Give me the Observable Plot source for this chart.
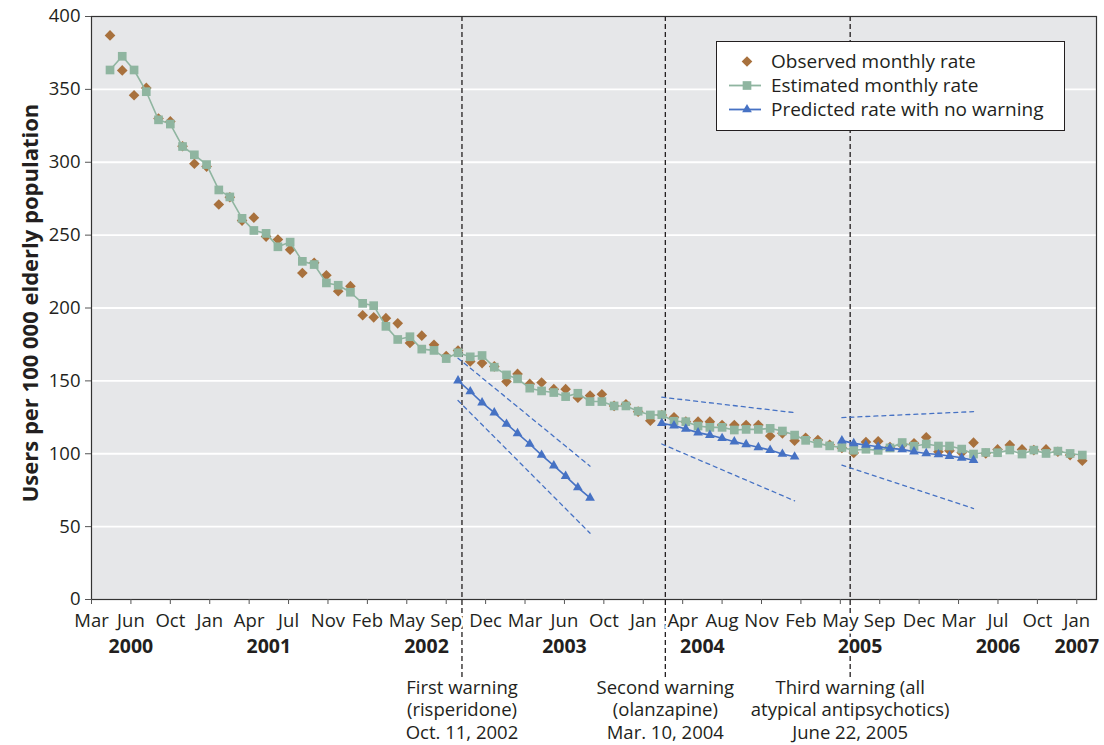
<!DOCTYPE html>
<html>
<head>
<meta charset="utf-8">
<script src="https://cdn.jsdelivr.net/npm/d3@7"></script>
<script src="https://cdn.jsdelivr.net/npm/@observablehq/plot@0.6"></script>
<style>
  body { margin: 0; background: #fff; font-family: "Open Sans", sans-serif; }
  #wrap { position: relative; width: 1104px; height: 745px; }
  #legend { position: absolute; left: 716px; top: 41px; }
</style>
</head>
<body>
<div id="wrap"></div>
<script>
// ---- data ----
const firstMonth = "2000-05-01";   // first monthly observation
const lastMonthExclusive = "2007-03-01";

const observed = [387, 363, 346, 351, 330, 328, 311, 299, 297, 271, 276, 260, 262, 249, 247, 240,
  224, 231, 222.5, 211.5, 215, 195, 193.6, 193, 189.5, 176, 181, 174.8, 167, 170.8,
  163.3, 162.2, 159.9, 149.5, 154.8, 147.9, 148.9, 144.3, 144.3, 138.5, 139.9, 140.8, 132.8, 133.9,
  128.9, 122.7, 126.6, 125, 122, 122, 122, 119.7, 119.7, 119.7, 119.7, 112.2, 114, 109, 111, 109.4,
  106.2, 104, 100.5, 108, 108.6, 104.6, 106, 107.2, 111.3, 101.4, 102.1, 100.7, 107.6, 100.2, 103,
  106, 103, 102.5, 103, 101.4, 99.1, 95.2];

const estimated = [363.3, 372.7, 363.3, 348.4, 329.1, 326.2, 310.8, 305.1, 298.4, 281, 276.2, 261.5,
  253.2, 251.2, 242, 245.2, 232, 229.8, 217.2, 215.6, 210.8, 203.2, 201.6, 187.4, 178.4, 180.3,
  171.8, 170.9, 165.3, 169.3, 166.5, 167.4, 159.4, 154.1, 151.4, 145, 143.1, 142, 139.2, 141.5,
  135.8, 135.8, 132.8, 132.8, 129.2, 126.6, 126.8, 122.3, 122, 119, 118.1, 118.1, 116.3, 116.7,
  116.7, 117.4, 115.6, 112.8, 109.2, 107.1, 105.4, 104.3, 102.4, 103.1, 102.3, 104, 107.7, 105.2,
  106.7, 105.3, 105.3, 103.2, 99.8, 100.9, 100.7, 102.5, 99.8, 102.5, 100.2, 101.8, 100.2, 99.1];

const predictedStarts = ["2002-10-01", "2004-03-01", "2005-06-01"];
const predicted1 = [150.2, 142.7, 135.1, 128.2, 120.4, 114, 106.7, 99.1, 91.8, 84.6, 76.8, 69.7];
const predicted2 = [120.9, 119.3, 117, 114.5, 112.8, 110.6, 108.3, 106.4, 104.4, 102.5, 99.8, 97.9];
const predicted3 = [109, 107.1, 106, 104.8, 103.7, 103, 101.4, 100.2, 99.5, 98.4, 97.2, 95.6];

// confidence bounds: value at first and last predicted month
const ciUpper = [[165.6, 91.5], [138.8, 128.2], [124.8, 128.9]];
const ciLower = [[136.5, 45.5], [106.7, 67.7], [92.2, 62.4]];

const warningDates = ["2002-10-11", "2004-03-10", "2005-06-22"];
const warningLabels = [
  "First warning\n(risperidone)\nOct. 11, 2002",
  "Second warning\n(olanzapine)\nMar. 10, 2004",
  "Third warning (all\natypical antipsychotics)\nJune 22, 2005"
];

const xDomain = ["2000-03-15", "2007-03-09"];
const tickDates = ["2000-03-15", "2000-06-23", "2000-10-01", "2001-01-09", "2001-04-19", "2001-07-28",
  "2001-11-05", "2002-02-13", "2002-05-24", "2002-09-01", "2002-12-10", "2003-03-20", "2003-06-28",
  "2003-10-06", "2004-01-14", "2004-04-23", "2004-08-01", "2004-11-09", "2005-02-17", "2005-05-28",
  "2005-09-05", "2005-12-14", "2006-03-24", "2006-07-02", "2006-10-10", "2007-01-18"];
const yTicks = [0, 50, 100, 150, 200, 250, 300, 350, 400];
const yLabel = "Users per 100 000 elderly population";

const seriesNames = ["Observed monthly rate", "Estimated monthly rate", "Predicted rate with no warning"];

// ---- build tables ----
const parse = d3.utcParse("%Y-%m-%d");
const months = d3.utcMonth.range(parse(firstMonth), parse(lastMonthExclusive));
const obsData = observed.map((v, i) => ({date: months[i], value: v}));
const estData = estimated.map((v, i) => ({date: months[i], value: v}));
const predData = [predicted1, predicted2, predicted3].flatMap((vals, s) =>
  vals.map((v, i) => ({seg: s, date: d3.utcMonth.offset(parse(predictedStarts[s]), i), value: v})));
const ciData = [];
[ciUpper, ciLower].forEach((arr, b) => arr.forEach((pair, s) => {
  const start = parse(predictedStarts[s]);
  const end = d3.utcMonth.offset(start, 11);
  ciData.push({key: b + "-" + s, date: start, value: pair[0]});
  ciData.push({key: b + "-" + s, date: end, value: pair[1]});
}));
const warnings = warningDates.map((d, i) => ({date: parse(d), label: warningLabels[i]}));
const ticks = tickDates.map(parse);
const yearGroups = d3.groups(ticks, d => d.getUTCFullYear());
const yearLabels = yearGroups.map(([yr, ds]) => ({year: String(yr), date: new Date(d3.mean(ds, d => +d))}));

const C_OBS = "#a8713d", C_EST = "#8fb5a0", C_PRED = "#4672c4", INK = "#231f20";
const FONT = "'Open Sans', sans-serif";
const R_OBS = 4.8, R_EST = 4.9, R_PRED = 3.6;

const diamond = {
  draw(context, size) {
    const r = Math.sqrt(size) * 0.62625;
    context.moveTo(0, -r); context.lineTo(r, 0); context.lineTo(0, r); context.lineTo(-r, 0); context.closePath();
  }
};

const chart = Plot.plot({
  width: 1104,
  height: 745,
  marginLeft: 91,
  marginRight: 8,
  marginTop: 16,
  marginBottom: 146,
  style: {fontFamily: FONT, fontSize: "18px", color: INK, background: "transparent", overflow: "visible"},
  x: {type: "utc", domain: xDomain.map(parse)},
  y: {domain: [0, 400]},
  marks: [
    Plot.frame({fill: "#e6e7e9"}),
    Plot.ruleY(yTicks.slice(1, -1), {stroke: "white", strokeWidth: 1.8}),
    Plot.ruleX(warnings, {x: "date", stroke: INK, strokeWidth: 1.3, strokeDasharray: "5,3", insetBottom: -80}),
    Plot.line(ciData, {x: "date", y: "value", z: "key", stroke: C_PRED, strokeWidth: 1.3, strokeDasharray: "4,4"}),
    Plot.dot(obsData, {x: "date", y: "value", symbol: diamond, r: R_OBS, fill: C_OBS}),
    Plot.line(estData, {x: "date", y: "value", stroke: C_EST, strokeWidth: 1.6}),
    Plot.dot(estData, {x: "date", y: "value", symbol: "square", r: R_EST, fill: C_EST}),
    Plot.line(predData, {x: "date", y: "value", z: "seg", stroke: C_PRED, strokeWidth: 1.6}),
    Plot.dot(predData, {x: "date", y: "value", symbol: "triangle", r: R_PRED, fill: C_PRED}),
    Plot.frame({stroke: "#333", strokeWidth: 1.2}),
    Plot.axisY({ticks: yTicks, tickSize: 6, tickPadding: 5, label: null, fontSize: 18.5, stroke: "#555"}),
    Plot.axisX({ticks: ticks, tickFormat: d3.utcFormat("%b"), tickSize: 5, tickPadding: 9, label: null, fontSize: 18.5,
      stroke: "#555", textStroke: "white", textStrokeWidth: 5}),
    Plot.text(yearLabels, {x: "date", text: "year", frameAnchor: "bottom", dy: 53, fontWeight: "bold", fontSize: 19.5,
      fill: INK, stroke: "white", strokeWidth: 6}),
    Plot.text(warnings, {x: "date", text: "label", frameAnchor: "bottom", dy: 78, lineAnchor: "top", lineHeight: 1.22, fontSize: 18.5, fill: INK}),
    Plot.text([yLabel], {frameAnchor: "left", textAnchor: "middle", dx: -61, dy: -5, rotate: -90, fontWeight: "bold", fontSize: 22, fill: INK})
  ]
});
document.getElementById("wrap").appendChild(chart);

// ---- legend (inside plot, top right) ----
const lg = d3.select("#wrap").append("svg").attr("id", "legend").attr("width", 350).attr("height", 91);
lg.append("rect").attr("x", 0.5).attr("y", 0.5).attr("width", 348).attr("height", 89)
  .attr("fill", "white").attr("stroke", INK).attr("stroke-width", 1);
const rows = [
  {name: seriesNames[0], color: C_OBS, line: false, sym: diamond, size: Math.PI * R_OBS * R_OBS},
  {name: seriesNames[1], color: C_EST, line: true, sym: d3.symbolSquare, size: Math.PI * R_EST * R_EST},
  {name: seriesNames[2], color: C_PRED, line: true, sym: d3.symbolTriangle, size: Math.PI * R_PRED * R_PRED}
];
rows.forEach((r, i) => {
  const cy = 20.5 + i * 24;
  const g = lg.append("g");
  if (r.line) g.append("line").attr("x1", 13).attr("x2", 45).attr("y1", cy).attr("y2", cy)
    .attr("stroke", r.color).attr("stroke-width", 1.8);
  g.append("path").attr("d", d3.symbol(r.sym, r.size)()).attr("transform", `translate(31,${cy})`).attr("fill", r.color);
  g.append("text").attr("x", 55).attr("y", cy).attr("dy", "0.35em").attr("fill", INK)
    .attr("font-family", FONT).attr("font-size", 19).text(r.name);
});
</script>
</body>
</html>
